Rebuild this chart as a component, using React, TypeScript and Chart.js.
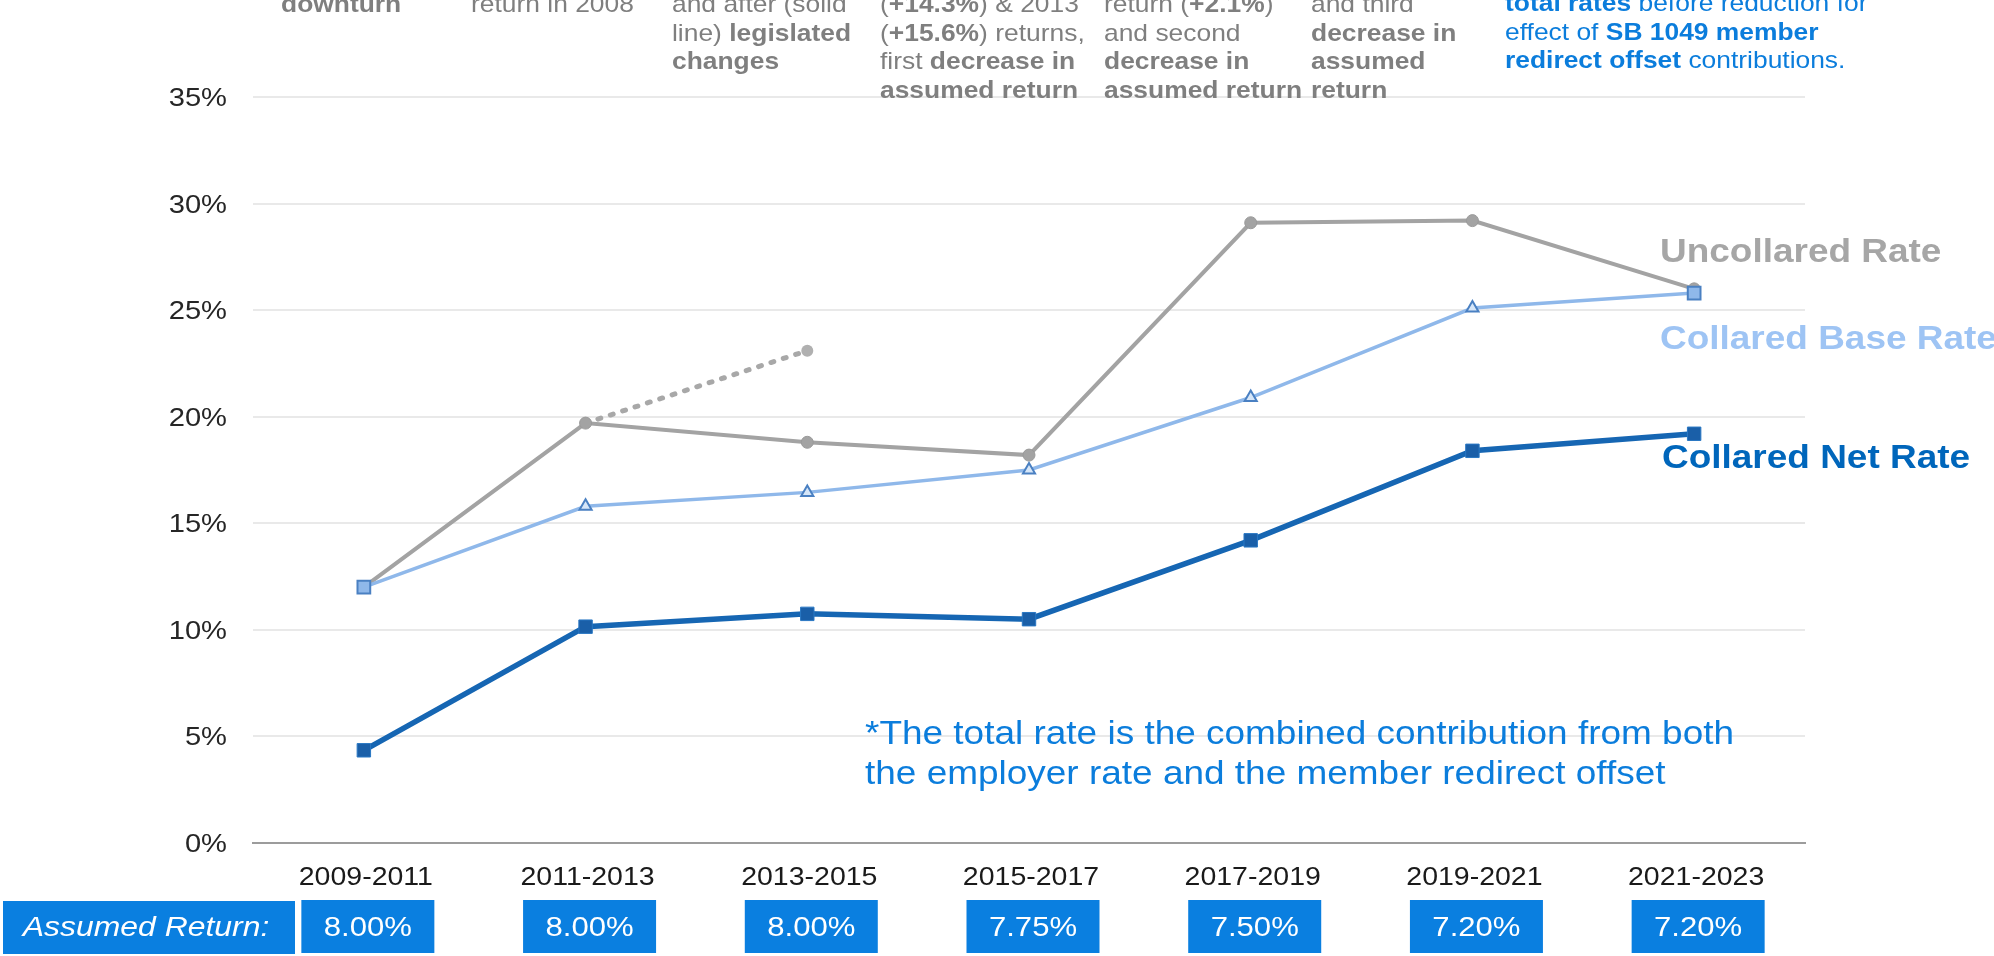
import React, { useEffect, useRef } from 'react';
import { Chart, registerables } from 'chart.js';

Chart.register(...registerables);

// ---------- data ----------
const periods = ['2009-2011', '2011-2013', '2013-2015', '2015-2017', '2017-2019', '2019-2021', '2021-2023'];
const uncollaredRate = [12.0, 19.7, 18.8, 18.2, 29.1, 29.2, 26.0];
const preLegislationRate = [null, 19.7, 23.1, null, null, null, null];
const collaredBaseRate = [12.0, 15.8, 16.45, 17.5, 20.9, 25.1, 25.8];
const collaredNetRate = [4.35, 10.15, 10.75, 10.5, 14.2, 18.4, 19.2];
const assumedReturn = [8.0, 8.0, 8.0, 7.75, 7.5, 7.2, 7.2];
const yMin = 0;
const yMax = 35;
const yStep = 5;

const FONT = '"Liberation Sans", Arial, Helvetica, sans-serif';
const GRAY_TXT = '#7f7f7f';
const BLUE_TXT = '#0b7ddc';
const BOX_BLUE = '#0a7fe0';

const overlayPlugin = {
  id: 'overlay',
  afterDraw(chart: any) {
    const { ctx } = chart;
    const x = chart.scales.x;
    const y = chart.scales.y;
    const txt = (s: string, px: number, py: number, font: string, color: string, align: CanvasTextAlign, sx: number) => {
      ctx.save();
      ctx.translate(px, py);
      ctx.scale(sx, 1);
      ctx.font = font;
      ctx.fillStyle = color;
      ctx.textAlign = align;
      ctx.textBaseline = 'alphabetic';
      ctx.fillText(s, 0, 0);
      ctx.restore();
    };
    // y tick labels
    y.ticks.forEach((t: any) => {
      const py = y.getPixelForValue(t.value);
      txt(`${t.value}%`, 227, py + 9, `26px ${FONT}`, '#262626', 'right', 1.12);
    });
    // x tick labels
    periods.forEach((p, i) => {
      const px = x.getPixelForValue(i);
      txt(p, px + 2, 885, `25px ${FONT}`, '#1a1a1a', 'center', 1.14);
    });
    // assumed return boxes
    ctx.save();
    ctx.fillStyle = BOX_BLUE;
    ctx.fillRect(3, 901, 292, 53);
    ctx.restore();
    txt('Assumed Return:', 146, 936, `italic 28px ${FONT}`, '#ffffff', 'center', 1.14);
    assumedReturn.forEach((v, i) => {
      const cx = x.getPixelForValue(i) + 4;
      ctx.save();
      ctx.fillStyle = BOX_BLUE;
      ctx.fillRect(cx - 66.5, 900, 133, 53);
      ctx.restore();
      txt(`${v.toFixed(2)}%`, cx, 936, `28px ${FONT}`, '#ffffff', 'center', 1.11);
    });
  },
};

function Note({ left, top, color, lines }: { left: number; top: number; color: string; lines: React.ReactNode[] }) {
  return (
    <div style={{ position: 'absolute', left, top, color, font: `24px/28.7px ${FONT}`, whiteSpace: 'nowrap' }}>
      {lines.map((l, i) => (
        <div key={i} style={{ height: 28.7, transform: 'scaleX(1.1)', transformOrigin: 'left top' }}>{l}</div>
      ))}
    </div>
  );
}

function Label({ left, top, color, text }: { left: number; top: number; color: string; text: string }) {
  return (
    <div style={{ position: 'absolute', left, top, color, font: `bold 33px/33px ${FONT}`, whiteSpace: 'nowrap', transform: 'scaleX(1.12)', transformOrigin: 'left top' }}>
      {text}
    </div>
  );
}

export default function App() {
  const ref = useRef<HTMLCanvasElement | null>(null);

  useEffect(() => {
    if (!ref.current) return;
    const chart = new Chart(ref.current, {
      type: 'line',
      data: {
        labels: periods,
        datasets: [
          {
            label: 'Collared Net Rate',
            data: collaredNetRate,
            borderColor: '#1666b3',
            borderWidth: 5.5,
            pointStyle: 'rect',
            pointRadius: 9.5,
            pointBackgroundColor: '#1a5fa8',
            pointBorderColor: '#2a78c4',
            pointBorderWidth: 1,
            tension: 0,
          },
          {
            label: 'Collared Base Rate',
            data: collaredBaseRate,
            borderColor: '#8fb8ea',
            borderWidth: 3.5,
            pointStyle: (c: any) => (c.dataIndex === 0 || c.dataIndex === periods.length - 1 ? 'rect' : 'triangle'),
            pointRadius: (c: any) => (c.dataIndex === 0 || c.dataIndex === periods.length - 1 ? 9 : 7),
            pointBackgroundColor: (c: any) => (c.dataIndex === 0 || c.dataIndex === periods.length - 1 ? '#8fb8ea' : '#d6e6f8'),
            pointBorderColor: '#4a80c2',
            pointBorderWidth: 2,
            tension: 0,
          },
          {
            label: 'Uncollared Rate',
            data: uncollaredRate,
            borderColor: '#a3a3a3',
            borderWidth: 4,
            pointStyle: 'circle',
            pointRadius: 6,
            pointBackgroundColor: '#a3a3a3',
            pointBorderColor: '#9a9a9a',
            pointBorderWidth: 1,
            tension: 0,
          },
          {
            label: 'Before legislated changes',
            data: preLegislationRate,
            borderColor: '#a8a8a8',
            borderWidth: 5,
            borderDash: [3, 10],
            borderCapStyle: 'round',
            pointRadius: (c: any) => (c.dataIndex === 2 ? 6 : 0),
            pointBackgroundColor: '#b0b0b0',
            pointBorderWidth: 0,
            spanGaps: false,
            tension: 0,
          },
        ],
      },
      options: {
        responsive: false,
        animation: false,
        devicePixelRatio: 1,
        events: [],
        layout: { padding: { left: 253, right: 189, top: 97, bottom: 113 } },
        plugins: { legend: { display: false }, tooltip: { enabled: false } },
        scales: {
          x: {
            type: 'category',
            offset: true,
            grid: { display: false },
            border: { display: true, color: '#9c9c9c', width: 2 },
            ticks: { display: false },
            afterFit: (s: any) => { s.height = 0; },
          },
          y: {
            min: yMin,
            max: yMax,
            ticks: { display: false, stepSize: yStep },
            border: { display: false },
            grid: {
              drawTicks: false,
              lineWidth: 2,
              color: (c: any) => (c.tick && c.tick.value === 0 ? 'rgba(0,0,0,0)' : '#e9e9e9'),
            },
            afterFit: (s: any) => { s.width = 0; },
          },
        },
      },
      plugins: [overlayPlugin],
    } as any);
    return () => chart.destroy();
  }, []);

  return (
    <div style={{ position: 'absolute', left: 0, top: 0, width: 1994, height: 956, overflow: 'hidden', background: '#ffffff' }}>
      <canvas ref={ref} width={1994} height={956} style={{ position: 'absolute', left: 0, top: 0, width: 1994, height: 956, display: 'block' }} />

      <Note left={281} top={-10} color={GRAY_TXT} lines={[<b>downturn</b>]} />
      <Note left={471} top={-10} color={GRAY_TXT} lines={['return in 2008']} />
      <Note left={672} top={-10} color={GRAY_TXT} lines={['and after (solid', <>line) <b>legislated</b></>, <b>changes</b>]} />
      <Note left={880} top={-10} color={GRAY_TXT} lines={[
        <>(<b>+14.3%</b>) &amp; 2013</>,
        <>(<b>+15.6%</b>) returns,</>,
        <>first <b>decrease in</b></>,
        <b>assumed return</b>,
      ]} />
      <Note left={1104} top={-10} color={GRAY_TXT} lines={[
        <>return (<b>+2.1%</b>)</>,
        'and second',
        <b>decrease in</b>,
        <b>assumed return</b>,
      ]} />
      <Note left={1311} top={-10} color={GRAY_TXT} lines={['and third', <b>decrease in</b>, <b>assumed</b>, <b>return</b>]} />
      <Note left={1505} top={-11} color={BLUE_TXT} lines={[
        <><b>total rates</b> before reduction for</>,
        <>effect of <b>SB 1049 member</b></>,
        <><b>redirect offset</b> contributions.</>,
      ]} />

      <Label left={1660} top={234} color="#a6a6a6" text="Uncollared Rate" />
      <Label left={1660} top={321} color="#9ec4f4" text="Collared Base Rate" />
      <Label left={1662} top={440} color="#0066bb" text="Collared Net Rate" />

      <div style={{ position: 'absolute', left: 865, top: 713, color: BLUE_TXT, font: `33px/40px ${FONT}`, whiteSpace: 'nowrap', transform: 'scaleX(1.12)', transformOrigin: 'left top' }}>
        <div>*The total rate is the combined contribution from both</div>
        <div>the employer rate and the member redirect offset</div>
      </div>
    </div>
  );
}
